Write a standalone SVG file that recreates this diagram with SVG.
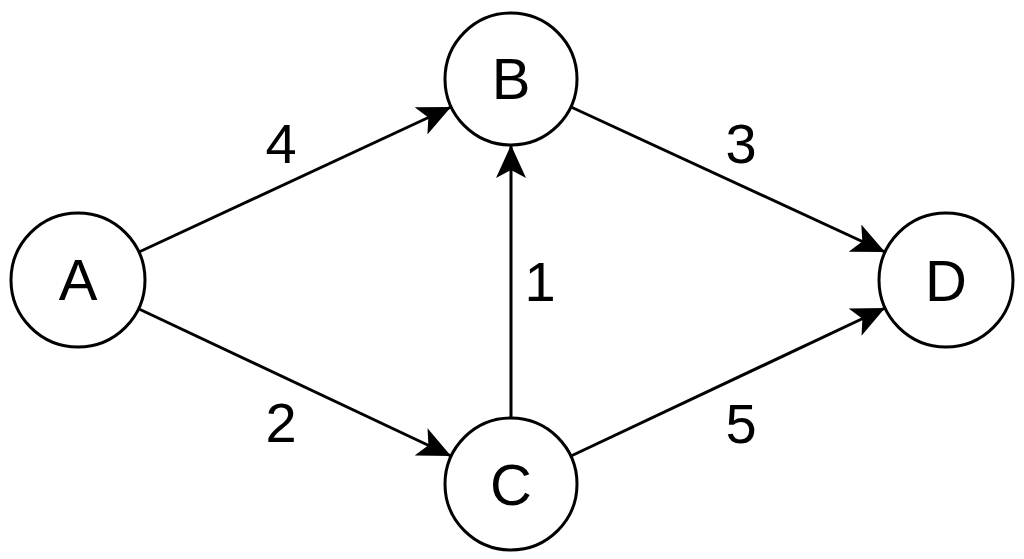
<svg xmlns="http://www.w3.org/2000/svg" width="1024" height="559" viewBox="0 0 1024 559">
  <style>
    .node { fill: #ffffff; stroke: #000000; stroke-width: 3; }
    .lbl { font-family: "Liberation Sans", Arial, Helvetica, sans-serif; font-size: 58px; fill: #000000; text-anchor: middle; }
    .num { font-family: "Liberation Sans", Arial, Helvetica, sans-serif; font-size: 56px; fill: #000000; text-anchor: middle; }
    .edge { fill: none; stroke: #000000; stroke-width: 3; marker-end: url(#arrow); }
  </style>
  <defs>
    <marker id="arrow" markerUnits="userSpaceOnUse" viewBox="0 0 33 30" refX="33" refY="15" markerWidth="33" markerHeight="30" orient="auto">
      <path d="M 33 15 L 0 0 L 8 15 L 0 30 Z" fill="#000000"/>
    </marker>
  </defs>
  <rect width="1024" height="559" fill="#ffffff"/>
  <g id="connectors">
    <line class="edge" x1="139" y1="252" x2="451" y2="107"/>
    <line class="edge" x1="139" y1="309" x2="451" y2="456"/>
    <line class="edge" x1="511" y1="418" x2="511" y2="145"/>
    <line class="edge" x1="571" y1="107" x2="885" y2="252"/>
    <line class="edge" x1="571" y1="456" x2="885" y2="308"/>
    <text class="num" x="281" y="163">4</text>
    <text class="num" x="741" y="163">3</text>
    <text class="num" x="540" y="301">1</text>
    <text class="num" x="281" y="442">2</text>
    <text class="num" x="741" y="443">5</text>
  </g>
  <g id="node-A">
    <circle class="node" cx="78" cy="280" r="67"/>
    <text class="lbl" x="78" y="300">A</text>
  </g>
  <g id="node-B">
    <circle class="node" cx="511" cy="79" r="66"/>
    <text class="lbl" x="511" y="99">B</text>
  </g>
  <g id="node-C">
    <circle class="node" cx="511" cy="484" r="66"/>
    <text class="lbl" x="511" y="505">C</text>
  </g>
  <g id="node-D">
    <circle class="node" cx="946" cy="280" r="67"/>
    <text class="lbl" x="946" y="301">D</text>
  </g>
</svg>
